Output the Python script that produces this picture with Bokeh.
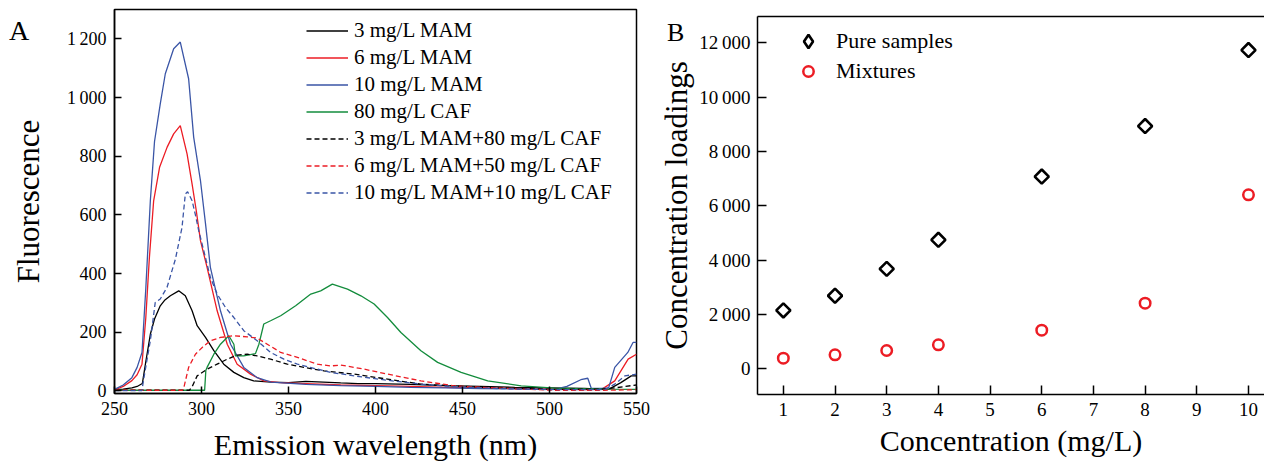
import math
from bokeh.plotting import figure
from bokeh.models import Legend, LegendItem, FixedTicker, LinearAxis, Range1d, Div
from bokeh.embed import file_html
from bokeh.resources import INLINE

FONT = "Liberation Serif"

# ---------------- Panel A data (emission spectra) ----------------
mam3_x = [250, 255, 260, 263, 266, 268, 270.6, 273, 276.3, 279, 282.1, 286.9, 290.7, 294.6, 297.5, 302.3,
          307.1, 312.8, 318.6, 324.3, 330, 340, 350, 360, 370, 380, 390, 400, 420, 440, 460, 480, 500, 520,
          530, 534, 541, 547, 550]
mam3_y = [3, 6, 10, 15, 25, 100, 193, 245, 290, 310, 324, 341, 324, 273, 222, 182,
          137, 91, 63, 45, 34, 30, 28, 32, 30, 27, 25, 25, 22, 18, 15, 12, 10, 8,
          6, 5, 28, 51, 51]

mam6_x = [250, 255, 260, 263, 265.8, 268, 270, 272.5, 275.9, 280.2, 284, 287.8, 291.7, 294.6, 297, 299.4,
          303.2, 309, 314.8, 320.5, 328.2, 335.8, 345, 360, 380, 400, 420, 440, 460, 480, 500, 520, 530,
          537.5, 545.2, 550]
mam6_y = [3, 15, 35, 55, 91, 250, 450, 648, 762, 830, 876, 904, 808, 705, 614, 512,
          421, 273, 159, 91, 57, 34, 28, 25, 20, 18, 15, 12, 10, 8, 6, 4, 5,
          34, 108, 125]

mam10_x = [250, 255, 260, 263, 265.8, 268, 270.6, 273, 276.3, 279.2, 284, 287.8, 292.6, 295.5, 299.4, 302.3,
           305.1, 310.9, 316.7, 324.3, 332, 340, 360, 380, 400, 420, 440, 460, 480, 500, 503, 510, 518,
           522, 524, 530, 534, 537.5, 545, 548, 550]
mam10_y = [5, 20, 45, 80, 131, 350, 648, 850, 978, 1081, 1166, 1189, 1064, 865, 717, 570,
           421, 273, 159, 80, 45, 30, 22, 18, 15, 12, 10, 8, 7, 5, 5, 15, 38,
           43, 9, 8, 10, 80, 131, 165, 165]

caf80_x = [250, 301.8, 302.5, 303.2, 307.1, 310.9, 315.7, 318.6, 319.5, 324.3, 331, 333, 335.8, 339.7, 345.5,
           354.1, 362.8, 368.5, 375.2, 383.9, 391.6, 399.2, 406.9, 414.6, 426.1, 435.7, 449.2, 464.5, 483.7,
           502.9, 531.7, 550]
caf80_y = [2, 2, 70, 80, 125, 159, 188, 159, 119, 119, 127, 159, 228, 239, 256,
           290, 330, 341, 364, 347, 324, 296, 250, 199, 137, 97, 63, 34, 17,
           9, 6, 5]

mix1_x = [250, 293, 294.6, 297.5, 303.2, 309, 314.8, 320.5, 326.3, 332, 339.7, 349.3, 358.9, 370.4, 387.7,
          406.9, 426.1, 445.3, 464.5, 483.7, 502.9, 529.8, 537.5, 543.3, 550]
mix1_y = [2, 2, 14, 51, 74, 91, 108, 122, 125, 119, 108, 91, 80, 68, 57,
          40, 23, 17, 11, 9, 5, 6, 10, 15, 20]

mix2_x = [250, 289, 289.8, 292.6, 296.5, 300.4, 305.1, 310.9, 318.6, 326.3, 332, 337.8, 345.5, 355.1, 366.6,
          374.3, 380, 393.5, 406.9, 426.1, 445.3, 464.5, 483.7, 502.9, 531.7, 550]
mix2_y = [2, 2, 10, 80, 125, 148, 171, 182, 188, 184, 180, 159, 131, 114, 91,
          85, 88, 74, 57, 34, 17, 11, 6, 2, 2, 4]

mix3_x = [250, 265.8, 266.5, 268.5, 270.6, 273.4, 276.3, 280.2, 285, 288.8, 290.7, 292, 294.6, 296.5, 298.4,
          301.3, 305.1, 309, 313.8, 318.6, 324.3, 332, 339.7, 347.4, 355.1, 366.6, 374.3, 387.7, 406.9,
          426.1, 445.3, 464.5, 483.7, 502.9, 531.7, 537.5, 543.3, 550]
mix3_y = [1, 1, 30, 100, 171, 301, 313, 353, 449, 557, 671, 679, 648, 600, 546,
          478, 387, 330, 284, 250, 205, 171, 131, 108, 91, 74, 63, 51, 36,
          23, 14, 9, 6, 4, 4, 23, 51, 57]

series_names = ["3 mg/L MAM", "6 mg/L MAM", "10 mg/L MAM", "80 mg/L CAF",
                "3 mg/L MAM+80 mg/L CAF", "6 mg/L MAM+50 mg/L CAF", "10 mg/L MAM+10 mg/L CAF"]

# ---------------- Panel B data (concentration loadings) ----------------
conc = [1, 2, 3, 4, 6, 8, 10]
pure_loadings = [2150, 2690, 3680, 4750, 7080, 8940, 11740]
mixture_loadings = [390, 516, 674, 884, 1422, 2416, 6409]

a_xticks = [250, 300, 350, 400, 450, 500, 550]
a_yticks = [0, 200, 400, 600, 800, 1000, 1200]
b_xticks = [1, 2, 3, 4, 5, 6, 7, 8, 9, 10]
b_yticks = [0, 2000, 4000, 6000, 8000, 10000, 12000]

BLACK = "#000000"
RED = "#ec1c24"
BLUE = "#3a55a6"
GREEN = "#138c3c"
THIN = "\u2009"


def style_axes(p, tick_size):
    for ax in (p.xaxis[0], p.yaxis[0]):
        ax.axis_line_width = 1.5
        ax.axis_line_color = "black"
        ax.major_tick_in = 7
        ax.major_tick_out = 0
        ax.major_tick_line_width = 1.5
        ax.major_tick_line_color = "black"
        ax.minor_tick_line_color = None
        ax.major_label_text_font = FONT
        ax.major_label_text_font_size = tick_size
        ax.major_label_text_color = "black"
        ax.axis_label_text_font = FONT
        ax.axis_label_text_font_style = "normal"
        ax.axis_label_text_font_size = "30px"
        ax.axis_label_text_color = "black"
    p.yaxis[0].axis_label_text_font_size = "31px"
    p.xgrid.visible = False
    p.ygrid.visible = False


# ================= Panel A =================
pA = figure(width=652, height=463, x_range=Range1d(250, 550), y_range=Range1d(-9, 1300),
            output_backend="svg", toolbar_location=None,
            min_border_left=114, min_border_right=16, min_border_top=9, min_border_bottom=70)
style_axes(pA, "18px")
pA.outline_line_color = "black"
pA.outline_line_width = 1.5
pA.outline_line_alpha = 1.0
pA.xaxis.ticker = FixedTicker(ticks=a_xticks)
pA.yaxis.ticker = FixedTicker(ticks=a_yticks)
pA.yaxis.major_label_overrides = {1000: "1" + THIN + "000", 1200: "1" + THIN + "200"}
pA.xaxis.major_label_standoff = 8
pA.yaxis.major_label_standoff = 8
pA.xaxis.axis_label = "Emission wavelength (nm)"
pA.yaxis.axis_label = "Fluorescence"
pA.xaxis.axis_label_standoff = 10
pA.yaxis.axis_label_standoff = 18

specs = [
    (mam3_x, mam3_y, BLACK, "solid"),
    (mam6_x, mam6_y, RED, "solid"),
    (mam10_x, mam10_y, BLUE, "solid"),
    (caf80_x, caf80_y, GREEN, "solid"),
    (mix1_x, mix1_y, BLACK, "5 3"),
    (mix2_x, mix2_y, RED, "5 3"),
    (mix3_x, mix3_y, BLUE, "5 3"),
]
items = []
for (xs, ys, col, dash), name in zip(specs, series_names):
    r = pA.line(xs, ys, line_color=col, line_width=1.3, line_dash=dash)
    items.append(LegendItem(label=name, renderers=[r]))

legA = Legend(items=items, location=(192, 188), orientation="vertical",
              label_text_font=FONT, label_text_font_size="21px", label_text_color="black",
              glyph_width=42, glyph_height=25, label_height=25, label_standoff=6, spacing=2,
              padding=0, margin=0, border_line_color=None, background_fill_alpha=0)
pA.add_layout(legA)

# ================= Panel B =================
pB = figure(width=612, height=463, x_range=Range1d(0.5, 10.31), y_range=Range1d(-947, 12976),
            output_backend="svg", toolbar_location=None,
            min_border_left=105, min_border_right=0, min_border_top=16, min_border_bottom=69)
style_axes(pB, "19px")
pB.outline_line_color = None
pB.xaxis.ticker = FixedTicker(ticks=b_xticks)
pB.yaxis.ticker = FixedTicker(ticks=b_yticks)
pB.yaxis.major_label_overrides = {v: (f"{v:,}".replace(",", THIN) if v >= 1000 else str(v)) for v in b_yticks}
pB.xaxis.major_label_standoff = 8
pB.yaxis.major_label_standoff = 7
pB.xaxis.major_tick_in = 9
pB.yaxis.major_tick_in = 9
pB.xaxis.axis_label = "Concentration (mg/L)"
pB.yaxis.axis_label = "Concentration loadings"
pB.xaxis.axis_label_standoff = 5
pB.yaxis.axis_label_standoff = 2

top_axis = LinearAxis(ticker=FixedTicker(ticks=[]), major_label_text_font_size="0px",
                      axis_line_width=1.5, axis_line_color="black",
                      major_tick_line_color=None, minor_tick_line_color=None)
pB.add_layout(top_axis, "above")

pB.scatter(conc, pure_loadings, marker="square", size=10, angle=math.pi / 4,
           fill_color=None, line_color="black", line_width=2.6)
r_mix = pB.scatter(conc, mixture_loadings, marker="circle", size=10.5,
                   fill_color=None, line_color=RED, line_width=2.5)
# hidden legend-only twin drawn as a diamond key (legend glyphs are never rotated)
r_pure_key = pB.scatter(conc, pure_loadings, marker="diamond", size=10,
                        fill_color=None, line_color="black", line_width=2.6, visible=False)

legB1 = Legend(items=[LegendItem(label="Pure samples", renderers=[r_pure_key])],
               location=(34, 336), orientation="vertical",
               label_text_font=FONT, label_text_font_size="22px", label_text_color="black",
               glyph_width=34, glyph_height=34, label_height=34, label_standoff=11, spacing=0,
               padding=0, margin=0, border_line_color=None, background_fill_alpha=0,
               inactive_fill_alpha=0)
legB2 = Legend(items=[LegendItem(label="Mixtures", renderers=[r_mix])],
               location=(38, 310), orientation="vertical",
               label_text_font=FONT, label_text_font_size="22px", label_text_color="black",
               glyph_width=26, glyph_height=26, label_height=26, label_standoff=15, spacing=0,
               padding=0, margin=0, border_line_color=None, background_fill_alpha=0)
pB.add_layout(legB1)
pB.add_layout(legB2)

# panel letters
divA = Div(text="A", styles={"position": "absolute", "left": "9px", "top": "17px",
                             "font-family": FONT, "font-size": "28px", "line-height": "28px",
                             "color": "black", "margin": "0", "padding": "0"})
divB = Div(text="B", styles={"position": "absolute", "left": "667px", "top": "20px",
                             "font-family": FONT, "font-size": "26px", "line-height": "26px",
                             "color": "black", "margin": "0", "padding": "0"})

html = file_html([pA, pB, divA, divB], INLINE)
side_by_side = "<style>body{display:flex !important;flex-direction:row !important;align-items:flex-start;}</style>"
html = html.replace("</head>", side_by_side + "</head>", 1)
open("out.html", "w").write(html)
